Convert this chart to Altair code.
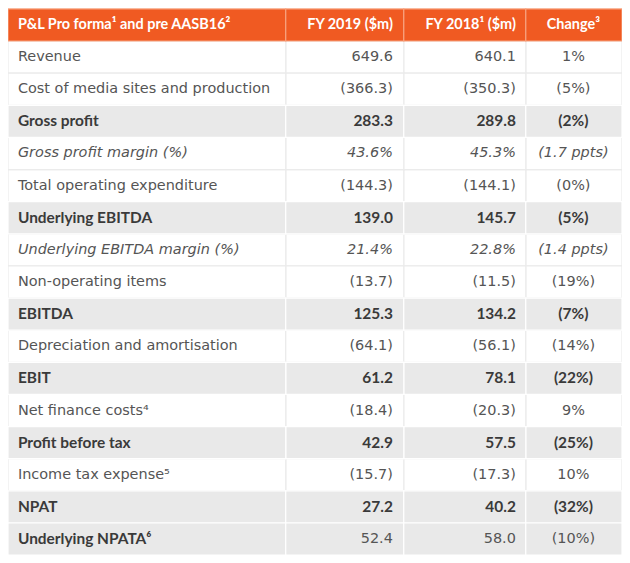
import altair as alt
import pandas as pd

# ---- data ----
header = ["P&L Pro forma¹ and pre AASB16²", "FY 2019 ($m)", "FY 2018¹ ($m)", "Change³"]
labels = ["Revenue", "Cost of media sites and production", "Gross profit",
          "Gross profit margin (%)", "Total operating expenditure", "Underlying EBITDA",
          "Underlying EBITDA margin (%)", "Non-operating items", "EBITDA",
          "Depreciation and amortisation", "EBIT", "Net finance costs⁴",
          "Profit before tax", "Income tax expense⁵", "NPAT", "Underlying NPATA⁶"]
fy2019 = ["649.6", "(366.3)", "283.3", "43.6%", "(144.3)", "139.0", "21.4%", "(13.7)",
          "125.3", "(64.1)", "61.2", "(18.4)", "42.9", "(15.7)", "27.2", "52.4"]
fy2018 = ["640.1", "(350.3)", "289.8", "45.3%", "(144.1)", "145.7", "22.8%", "(11.5)",
          "134.2", "(56.1)", "78.1", "(20.3)", "57.5", "(17.3)", "40.2", "58.0"]
change = ["1%", "(5%)", "(2%)", "(1.7 ppts)", "(0%)", "(5%)", "(1.4 ppts)", "(19%)",
          "(7%)", "(14%)", "(22%)", "9%", "(25%)", "10%", "(32%)", "(10%)"]
# row kinds: n = normal, b = bold (shaded), i = italic, s = shaded with bold label only
kinds = ["n", "n", "b", "i", "n", "b", "i", "n", "b", "n", "b", "n", "b", "n", "b", "s"]

# ---- layout ----
EDGES = [5, 285, 404, 527, 624]
ORANGE = "#F05A22"
SHADE = "#E9E9E9"
NROWS = len(labels) + 1

cells = []
for r in range(NROWS):
    if r == 0:
        fill, stroke = ORANGE, "#F7A27F"
    else:
        k = kinds[r - 1]
        fill, stroke = (SHADE, "#FFFFFF") if k in ("b", "s") else ("#FFFFFF", "#EBEBEB")
    for c in range(4):
        cells.append(dict(r=r, r2=r + 1, x=EDGES[c], x2=EDGES[c + 1], fill=fill,
                          stroke=stroke, order=0 if fill == "#FFFFFF" else 1))
cells_df = pd.DataFrame(cells).sort_values("order")

texts = []
anchors = [(15, "left"), (393, "right"), (517, "right"), (575, "center")]
for c, t in enumerate(header):
    texts.append(dict(r=0.5, x=anchors[c][0], t=t, align=anchors[c][1], style="head"))
cols = [labels, fy2019, fy2018, change]
for i in range(len(labels)):
    k = kinds[i]
    for c in range(4):
        if k == "b":
            st = "bold"
        elif k == "i":
            st = "italic"
        elif k == "s":
            st = "bold" if c == 0 else "normal"
        else:
            st = "normal"
        texts.append(dict(r=i + 1.5, x=anchors[c][0], t=cols[c][i], align=anchors[c][1], style=st))
texts_df = pd.DataFrame(texts)

W, H = 616, 548
xs = alt.Scale(domain=[EDGES[0], EDGES[-1]], range=[0, W])
ys = alt.Scale(domain=[0, NROWS], range=[0, H])

rects = alt.Chart(cells_df).mark_rect(strokeWidth=1.2).encode(
    x=alt.X("x:Q", scale=xs, axis=None), x2="x2:Q",
    y=alt.Y("r:Q", scale=ys, axis=None), y2="r2:Q",
    fill=alt.Fill("fill:N", scale=None),
    stroke=alt.Stroke("stroke:N", scale=None),
    order="order:Q",
)

layers = [rects]
styles = {
    "head": dict(font="Lato", fontSize=14.5, fontWeight="bold", color="#FFFFFF", fontStyle="normal"),
    "bold": dict(font="Lato", fontSize=15.5, fontWeight="bold", color="#3A3A3A", fontStyle="normal"),
    "italic": dict(font="DejaVu Sans", fontSize=14.5, fontWeight="normal", color="#555555", fontStyle="italic"),
    "normal": dict(font="DejaVu Sans", fontSize=14.5, fontWeight="normal", color="#555555", fontStyle="normal"),
}
for st, opts in styles.items():
    for al in ["left", "right", "center"]:
        sub = texts_df[(texts_df["style"] == st) & (texts_df["align"] == al)]
        if len(sub) == 0:
            continue
        layers.append(
            alt.Chart(sub).mark_text(align=al, baseline="middle", **opts).encode(
                x=alt.X("x:Q", scale=xs, axis=None),
                y=alt.Y("r:Q", scale=ys, axis=None),
                text="t:N",
            )
        )

chart = alt.layer(*layers).properties(
    width=W, height=H, padding=0, autosize=alt.AutoSizeParams(type="none")
).configure_view(stroke=None)

chart.save("out.html", embed_options={"renderer": "svg", "actions": False})
